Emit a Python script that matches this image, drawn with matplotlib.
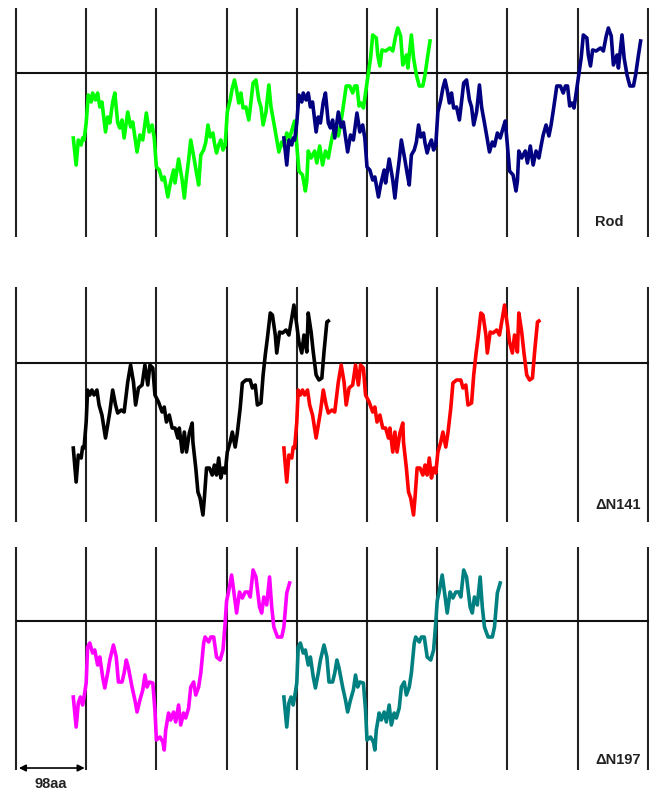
import numpy as np
import matplotlib
matplotlib.use("Agg")
import matplotlib.pyplot as plt

plt.rcParams['font.family'] = ['Liberation Sans', 'DejaVu Sans']

# one grid column = 98 residues
COL = 98
N_COLS = 9

# second copy of each profile is drawn 3 columns further on
starts = [80, 80 + 3 * COL]

# Rod profile: residue offset from start, score (0 = axis line)
rod_pos = [0, 4, 7, 11, 13, 15, 18, 21, 25, 27,
           31, 34, 37, 40, 45, 48, 51, 55, 58, 62,
           65, 68, 71, 76, 80, 83, 89, 93, 97, 102,
           106, 110, 113, 116, 120, 124, 127, 132, 135, 140,
           142, 147, 152, 155, 158, 161, 164, 169, 172, 175,
           178, 182, 185, 188, 191, 195, 197, 200, 203, 206,
           209, 212, 215, 219, 222, 225, 228, 231, 234, 237,
           241, 245, 248, 251, 255, 259, 262, 265, 269, 273,
           276, 281, 287, 291,
           294, 298, 302, 306, 309, 312, 315, 320, 324, 326,
           328, 332, 337, 340, 344, 348, 352, 356, 359, 362,
           366, 370, 373, 376, 381, 386, 390, 393, 396, 399,
           402, 405, 408, 411, 415, 418, 423, 425, 428, 431,
           436, 442, 446, 450, 453, 457, 460, 465, 467, 472,
           475, 479, 483, 488, 491, 495, 498]
rod_score = [-65, -92, -67, -72, -65, -67, -50, -22, -29, -20,
             -27, -20, -34, -29, -59, -44, -50, -29, -20, -50,
             -55, -47, -65, -39, -54, -49, -79, -62, -67, -40,
             -59, -52, -65, -94, -97, -107, -104, -124, -112, -97,
             -110, -86, -107, -125, -104, -87, -67, -87, -100, -112,
             -82, -77, -69, -52, -64, -60, -70, -80, -72, -67,
             -77, -72, -39, -27, -15, -7, -17, -30, -20, -35,
             -34, -47, -29, -10, -7, -27, -34, -52, -39, -12,
             -34, -54, -79, -69,
             -73, -60, -65, -55, -48, -72, -98, -102, -118, -108,
             -78, -85, -78, -90, -73, -92, -78, -85, -73, -62,
             -52, -63, -52, -38, -13, -13, -20, -13, -13, -33,
             -30, -35, -20, -5, 15, 38, 35, 18, 7, 23,
             22, 25, 22, 37, 45, 37, 8, 18, 5, 38,
             15, -2, -13, -13, -2, 18, 32]

# dN141 profile
n141_pos = [0, 4, 7, 11, 13, 15, 18, 20, 23, 26,
            29, 33, 36, 40, 45, 48, 51, 55, 59, 62,
            67, 71, 76, 80, 84, 87, 91, 96, 100, 104,
            107, 111, 114, 119, 124, 127, 130, 134, 138, 142,
            146, 148, 152, 155, 158, 162, 166, 167, 171, 174,
            177, 181, 183, 186, 190, 194, 197, 200, 203, 206,
            209, 212, 215, 219, 222, 226, 229, 233, 236, 241,
            247, 250, 254, 257, 262, 265, 268, 271, 275, 278,
            282, 284, 288, 292, 297, 301, 305, 308, 312, 315,
            319, 322, 326, 328, 332, 335, 339, 343, 347, 350,
            354, 356]
n141_score = [-85, -119, -92, -95, -84, -85, -59, -27, -32, -27,
              -32, -27, -42, -52, -75, -62, -49, -27, -42, -50,
              -47, -49, -19, -2, -19, -42, -25, -22, -2, -22,
              -2, -5, -32, -39, -49, -44, -59, -52, -65, -65,
              -75, -65, -89, -69, -89, -70, -60, -79, -105, -129,
              -135, -152, -135, -105, -105, -112, -102, -112, -95, -115,
              -105, -110, -89, -79, -69, -84, -70, -45, -20, -17,
              -17, -25, -22, -42, -40, -12, 8, 25, 50, 48,
              28, 10, 31, 30, 33, 28, 45, 58, 38, 21,
              10, 28, 11, 50, 31, 11, -12, -17, -15, 11,
              41, 42]

# dN197 profile
n197_pos = [0, 4, 7, 10, 13, 15, 18, 20, 23, 27,
            30, 34, 37, 41, 44, 48, 51, 56, 60, 63,
            68, 71, 74, 77, 82, 86, 89, 93, 97, 100,
            103, 106, 111, 114, 116, 121, 125, 127, 129, 133,
            136, 140, 143, 147, 150, 154, 157, 161, 164, 168,
            171, 175, 178, 182, 184, 189, 192, 196, 200, 205,
            209, 212, 214, 217, 221, 224, 228, 232, 236, 240,
            244, 247, 251, 255, 260, 263, 266, 270, 274, 277,
            280, 285, 291, 294, 298, 302]
n197_score = [-76, -106, -82, -76, -84, -76, -62, -26, -22, -32,
              -29, -44, -36, -56, -67, -52, -39, -24, -36, -61,
              -61, -52, -39, -47, -66, -79, -91, -79, -69, -54,
              -66, -61, -62, -89, -119, -116, -121, -129, -109, -92,
              -99, -91, -101, -84, -104, -92, -97, -87, -66, -61,
              -74, -66, -52, -22, -16, -21, -16, -16, -36, -39,
              -29, -2, 20, 30, 46, 30, 8, 29, 23, 29,
              29, 24, 51, 44, 14, 8, 24, 16, 44, 14,
              -6, -16, -16, -6, 28, 38]

panels = [
    dict(pos=rod_pos, score=rod_score, colors=['#00ff00', '#000080'],
         label='Rod', label_at=(828, -149), ylim=(-164, 65),
         box=(0.700, 0.2899)),
    dict(pos=n141_pos, score=n141_score, colors=['#000000', '#ff0000'],
         label='\u0394N141', label_at=(840, -142), ylim=(-159, 76),
         box=(0.3392, 0.2975)),
    dict(pos=n197_pos, score=n197_score, colors=['#ff00ff', '#008080'],
         label='\u0394N197', label_at=(840, -139), ylim=(-149, 74),
         box=(0.0253, 0.2823)),
]

x_lo, x_hi = -22.3, 883.7

fig = plt.figure(figsize=(6.49, 7.90), dpi=100)

for p in panels:
    ax = fig.add_axes([0, p['box'][0], 1, p['box'][1]])
    ax.set_xlim(x_lo, x_hi)
    ax.set_ylim(*p['ylim'])
    ax.axis('off')

    for k in range(N_COLS + 1):
        ax.axvline(k * COL, color='#222222', lw=1.5, zorder=1)
    ax.hlines(0, 0, x_hi, color='#111111', lw=1.5, zorder=1)

    pos = np.array(p['pos'])
    for s, c in zip(starts, p['colors']):
        ax.plot(pos + s, p['score'], color=c, lw=2.6, zorder=3,
                solid_joinstyle='round')

    ax.text(*p['label_at'], p['label'], ha='center', va='center',
            fontsize=10.5, fontweight='bold', color='#222222')

    if p['label'] == '\u0394N197':
        ax.annotate('', xy=(4, -147), xytext=(COL - 2, -147),
                    arrowprops=dict(arrowstyle='<|-|>', color='black',
                                    lw=1.2, mutation_scale=10,
                                    shrinkA=0, shrinkB=0),
                    annotation_clip=False)
        ax.text(COL / 2, -163, '98aa', ha='center', va='center',
                fontsize=10.5, fontweight='bold', color='#222222',
                clip_on=False)

fig.savefig('out.png', dpi=100)
